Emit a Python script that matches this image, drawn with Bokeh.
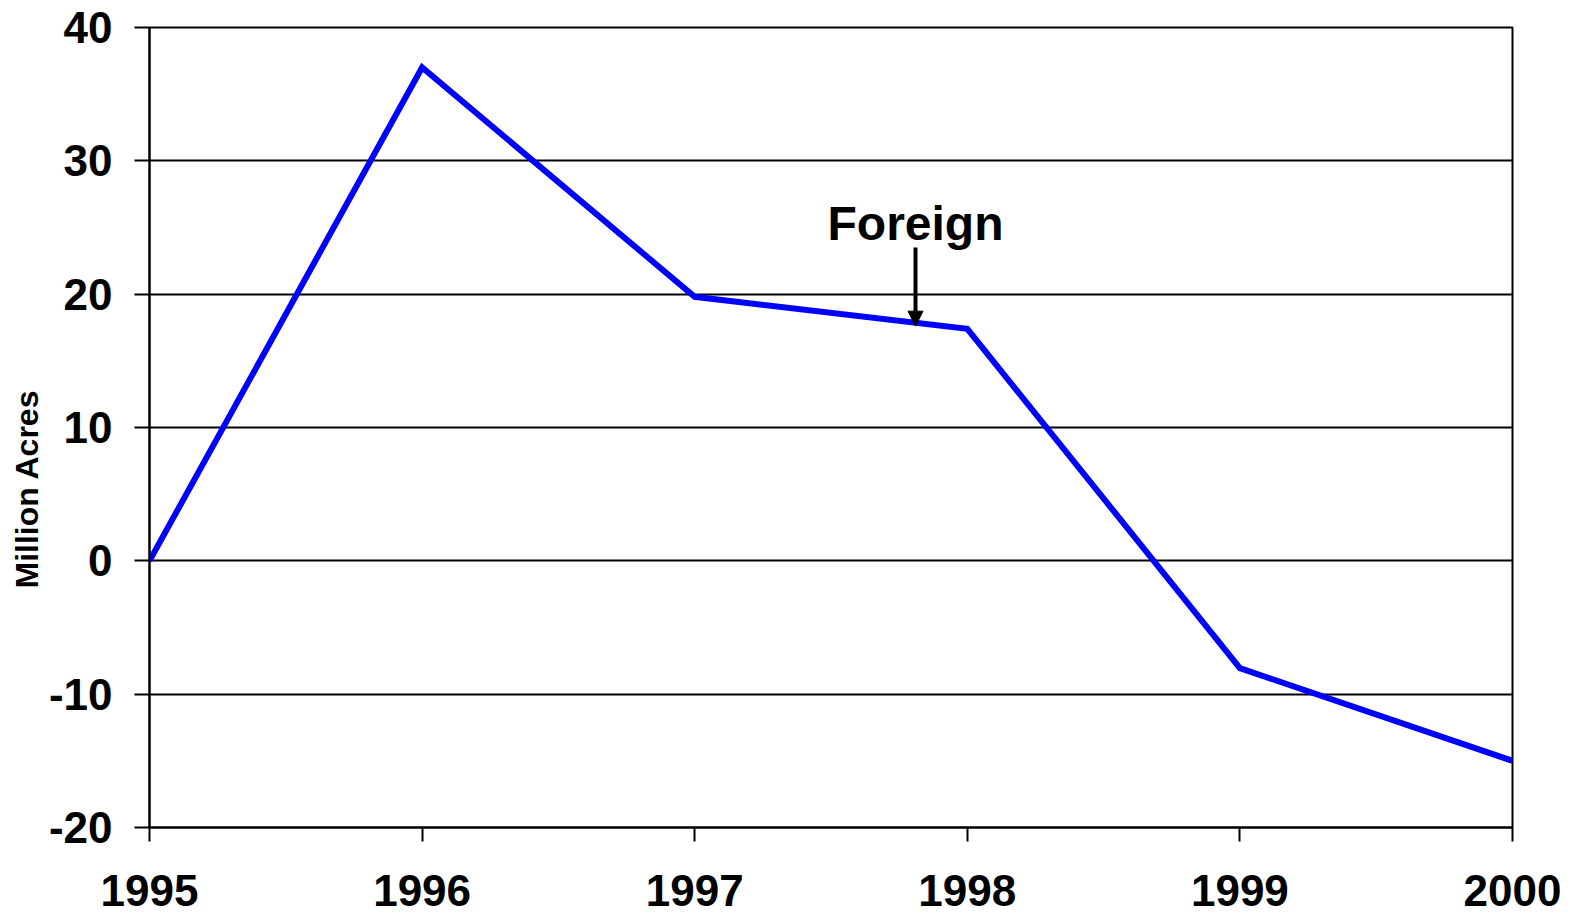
from bokeh.plotting import figure
from bokeh.models import Range1d, FixedTicker, Arrow, NormalHead, Label, Title
from bokeh.embed import file_html
from bokeh.resources import INLINE

years = [1995, 1996, 1997, 1998, 1999, 2000]
foreign = [0.0, 37.0, 19.8, 17.4, -8.05, -15.0]
y_ticks = [-20, -10, 0, 10, 20, 30, 40]
y_tick_labels = ["-20", "-10", "0", "10", "20", "30", "40"]
series_label = "Foreign"
y_title = "Million Acres"

FONT = "Liberation Sans"

p = figure(width=1570, height=914, output_backend="svg", toolbar_location=None,
           x_range=Range1d(1995, 2000), y_range=Range1d(-20, 40),
           min_border_left=149, min_border_right=58, min_border_top=27, min_border_bottom=87)
p.background_fill_color = "white"
p.border_fill_color = "white"
p.outline_line_color = "black"
p.outline_line_width = 2

p.xgrid.grid_line_color = None
p.ygrid.grid_line_color = "black"
p.ygrid.grid_line_width = 2
p.ygrid.grid_line_alpha = 1.0
p.ygrid.ticker = FixedTicker(ticks=y_ticks)

for ax in (p.xaxis[0], p.yaxis[0]):
    ax.axis_line_color = "black"
    ax.axis_line_width = 2
    ax.major_tick_line_color = "black"
    ax.major_tick_line_width = 2
    ax.minor_tick_line_color = None
    ax.major_label_text_font = FONT
    ax.major_label_text_font_style = "bold"
    ax.major_label_text_font_size = "44px"
    ax.major_label_text_color = "black"

p.xaxis.ticker = FixedTicker(ticks=years)
p.xaxis.major_tick_out = 14
p.xaxis.major_tick_in = 0
p.xaxis.major_label_standoff = 33

p.yaxis.ticker = FixedTicker(ticks=y_ticks)
p.yaxis.major_label_overrides = {t: s for t, s in zip(y_ticks, y_tick_labels)}
p.yaxis.major_tick_out = 15
p.yaxis.major_tick_in = 0
p.yaxis.major_label_standoff = 22

# y-axis title as a side title (sits slightly below the frame centre, as in the reference)
p.add_layout(Title(text=y_title, align="left", offset=239, standoff=2,
                   text_font=FONT, text_font_style="bold", text_font_size="32px",
                   text_color="black"), "left")

p.line(years, foreign, line_color="#0000ff", line_width=6, line_join="miter")

arrow_x = 1997.81
p.add_layout(Arrow(end=NormalHead(size=15, fill_color="black", line_color="black", line_width=1),
                   x_start=arrow_x, y_start=23.5, x_end=arrow_x, y_end=17.6,
                   line_color="black", line_width=4))
p.add_layout(Label(x=arrow_x, y=25.3, text=series_label, text_align="center",
                   text_baseline="alphabetic", text_font=FONT, text_font_style="bold",
                   text_font_size="48px", text_color="black"))

open("out.html", "w").write(file_html(p, INLINE))
